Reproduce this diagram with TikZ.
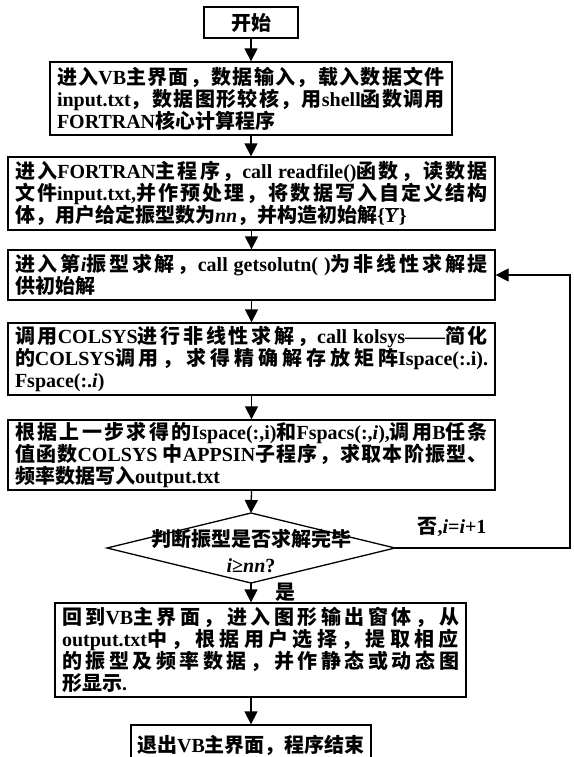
\documentclass[tikz,border=0pt]{standalone}
\usepackage{fontspec}
\setmainfont{Noto Sans CJK SC}
\newfontfamily\latinf{Liberation Serif}
\newcommand\E[1]{{\latinf #1}}
\usetikzlibrary{arrows.meta}
\XeTeXinterchartokenstate=1
\newXeTeXintercharclass\CJKcls
\newcount\cjkcnt
\cjkcnt=19968 %
\loop\XeTeXcharclass\cjkcnt=\CJKcls\relax\advance\cjkcnt by 1\relax\ifnum\cjkcnt<40960 \repeat
\XeTeXcharclass"FF0C=\CJKcls\relax
\XeTeXcharclass"3001=\CJKcls\relax
\XeTeXinterchartoks\CJKcls\CJKcls={\nobreak\hskip0pt plus 8pt\relax}
\tikzset{
  box/.style={draw, line width=1.3pt, inner xsep=7pt, inner ysep=2pt, align=justify,
    font=\bfseries\fontsize{20}{22}\selectfont},
  plain/.style={font=\bfseries\fontsize{20}{22}\selectfont, inner sep=1pt},
  arr/.style={line width=1.3pt, -{Triangle[length=13pt,width=13pt]}},
  ln/.style={line width=1.3pt},
}
\begin{document}
\begin{tikzpicture}[x=1pt,y=-1pt]
\useasboundingbox (0,0) rectangle (573,757);
\clip (0,0) rectangle (573,757);
\node[box, align=center, minimum width=94, minimum height=31] (start) at (251,22.5) {开始};
\node[box, minimum width=402, minimum height=73, text width=388] (b2) at (251,98.5)
  {进入\E{VB}主界面，数据输入，载入数据文件\linebreak
   \E{input.txt}，数据图形较核，用\E{shell}函数调用\linebreak
   \E{FORTRAN}核心计算程序};
\node[box, minimum width=487, minimum height=73, text width=473] (b3) at (251.5,193.5)
  {进入\E{FORTRAN}主程序，\E{call~readfile()}函数，读数据\linebreak
   文件\E{input.txt,}并作预处理，将数据写入自定义结构\linebreak
   体，用户给定振型数为\E{\textit{nn}}，并构造初始解\E{\{$\overline{\hbox{\textit{Y}}}$\}}};
\node[box, minimum width=487, minimum height=50, text width=473] (b4) at (251.5,275)
  {进入第\E{\textit{i}}振型求解，\E{call~getsolutn(~)}为非线性求解提\linebreak
   供初始解};
\node[box, minimum width=487, minimum height=72, text width=473] (b5) at (251.5,359)
  {调用\E{COLSYS}进行非线性求解，\E{call~kolsys——}简化\linebreak
   的\E{COLSYS}调用，求得精确解存放矩阵\E{Ispace(:.i).}\linebreak
   \E{Fspace(:.\textit{i})}};
\node[box, minimum width=487, minimum height=70, text width=473] (b6) at (251.5,455)
  {根据上一步求得的\E{Ispace(:,i)}和\E{Fspacs(:,\textit{i}),}调用\E{B}任条\linebreak
   值函数\E{COLSYS~}中\E{APPSIN}子程序，求取本阶振型、\linebreak
   频率数据写入\E{output.txt}};
\coordinate (dT) at (251,513);
\coordinate (dR) at (395,548);
\coordinate (dB) at (251,583);
\coordinate (dL) at (107,548);
\draw[ln] (dL) -- (dT) -- (dR) -- (dB) -- cycle;
\node[plain, align=center, font=\bfseries\fontsize{20}{26}\selectfont] (dtext) at (251,551)
  {判断振型是否求解完毕\\\E{\textit{i}≥\textit{nn}?}};
\node[box, minimum width=411, minimum height=94, text width=397] (b7) at (260.5,650)
  {回到\E{VB}主界面，进入图形输出窗体，从\linebreak
   \E{output.txt}中，根据用户选择，提取相应\linebreak
   的振型及频率数据，并作静态或动态图\linebreak
   形显示\E{.}};
\node[box, align=center, inner xsep=2pt, minimum width=240, minimum height=40] (b8) at (251,745)
  {退出\E{VB}主界面，程序结束};
\node[plain] (no) at (452,527) {否\E{,\textit{i}=\textit{i}+1}};
\node[plain] (yes) at (285,592) {是};
\coordinate (fb) at (570,548);
\draw[arr] (start.south) -- (start.south |- b2.north);
\draw[arr] (b2.south) -- (b2.south |- b3.north);
\draw[arr] (b3) -- (b4);
\draw[arr] (b4) -- (b5);
\draw[arr] (b5) -- (b6);
\draw[arr] (b6.south) -- (dT);
\draw[arr] (dB) -- (dB |- b7.north);
\draw[arr] (b7.south -| b8.north) -- (b8.north);
\draw[arr] (dR) -- (fb) |- (b4.east);
\end{tikzpicture}
\end{document}
